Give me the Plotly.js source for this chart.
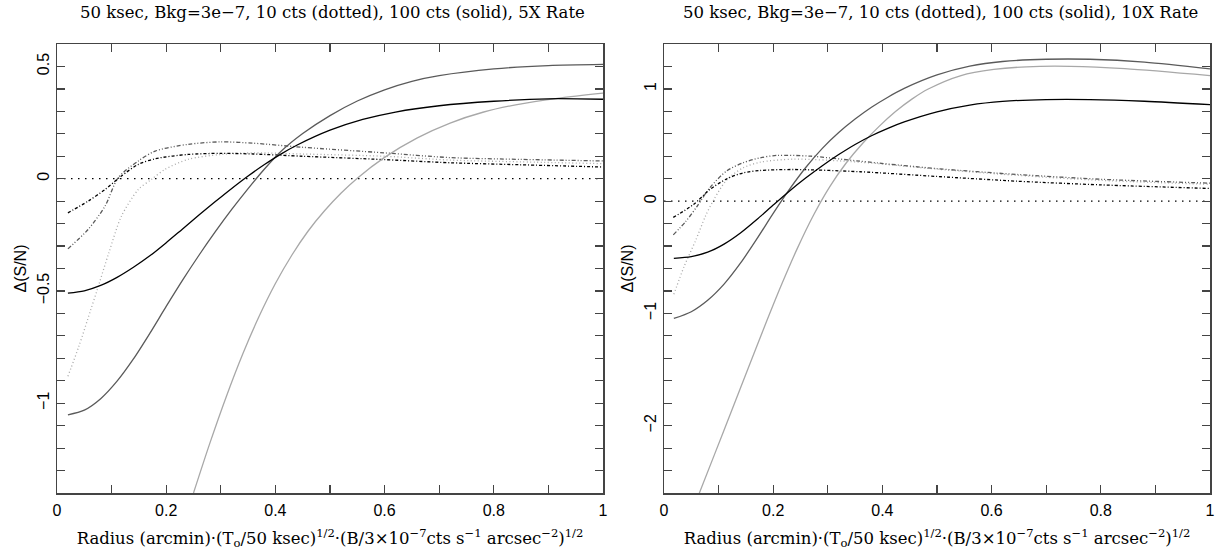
<!DOCTYPE html>
<html>
<head>
<meta charset="utf-8">
<script src="https://cdn.plot.ly/plotly-3.0.1.min.js"></script>
<style>html,body{margin:0;padding:0;background:#fff;}#chart{width:1224px;height:556px;}</style>
</head>
<body>
<div id="chart"></div>
<script>
// ---------- data: left panel (5X Rate) ----------
const L_solidBlack_x = [0.02,0.05,0.08,0.11,0.14,0.17,0.20,0.23,0.26,0.29,0.32,0.35,0.38,0.41,0.44,0.50,0.56,0.62,0.70,0.80,0.90,1.00];
const L_solidBlack_y = [-0.51,-0.4995,-0.4755,-0.4395,-0.3945,-0.3435,-0.285,-0.2235,-0.162,-0.102,-0.0435,0.012,0.063,0.1095,0.15,0.216,0.264,0.297,0.325,0.345,0.356,0.354];
const L_solidDark_x = [0.02,0.05,0.08,0.11,0.14,0.17,0.20,0.23,0.26,0.29,0.32,0.35,0.38,0.41,0.45,0.50,0.55,0.60,0.65,0.70,0.80,0.90,1.00];
const L_solidDark_y = [-1.052,-1.031,-0.98,-0.902,-0.803,-0.689,-0.569,-0.452,-0.341,-0.236,-0.137,-0.044,0.043,0.121,0.201,0.281,0.346,0.396,0.434,0.459,0.489,0.504,0.509];
const L_solidLight_x = [0.25,0.28,0.31,0.34,0.37,0.40,0.43,0.46,0.49,0.52,0.55,0.60,0.66,0.72,0.78,0.84,0.92,1.00];
const L_solidLight_y = [-1.40,-1.178,-0.971,-0.782,-0.614,-0.467,-0.341,-0.233,-0.143,-0.065,0.0025,0.095,0.182,0.248,0.296,0.329,0.359,0.381];
const L_dotBlack_x = [0.02,0.057,0.088,0.118,0.149,0.18,0.24,0.30,0.36,0.45,0.60,0.72,0.85,1.00];
const L_dotBlack_y = [-0.152,-0.10,-0.048,0.012,0.064,0.089,0.108,0.113,0.11,0.10,0.085,0.071,0.062,0.052];
const L_dotDark_x = [0.02,0.057,0.088,0.112,0.149,0.18,0.24,0.30,0.36,0.45,0.60,0.72,0.85,1.00];
const L_dotDark_y = [-0.3125,-0.226,-0.122,0.004,0.079,0.123,0.153,0.164,0.158,0.14,0.115,0.094,0.086,0.079];
const L_dotLight_x = [0.02,0.04,0.061,0.073,0.095,0.118,0.149,0.173,0.198,0.24,0.30,0.36,0.45,0.60,0.72,0.85,1.00];
const L_dotLight_y = [-0.88,-0.747,-0.59,-0.50,-0.33,-0.167,-0.048,-0.003,0.042,0.086,0.108,0.115,0.11,0.10,0.083,0.075,0.067];

// ---------- data: right panel (10X Rate) ----------
const R_solidBlack_x = [0.018,0.05,0.08,0.11,0.14,0.17,0.20,0.23,0.26,0.29,0.32,0.35,0.38,0.41,0.44,0.50,0.56,0.62,0.70,0.78,0.88,1.00];
const R_solidBlack_y = [-0.51,-0.494,-0.455,-0.383,-0.284,-0.164,-0.035,0.091,0.208,0.316,0.415,0.505,0.583,0.649,0.706,0.796,0.856,0.889,0.905,0.905,0.89,0.86];
const R_solidDark_x = [0.018,0.05,0.08,0.11,0.14,0.17,0.20,0.23,0.26,0.29,0.32,0.35,0.38,0.41,0.44,0.50,0.56,0.62,0.70,0.78,0.88,1.00];
const R_solidDark_y = [-1.045,-0.985,-0.883,-0.739,-0.553,-0.337,-0.109,0.107,0.302,0.47,0.611,0.731,0.836,0.926,1.004,1.124,1.202,1.244,1.264,1.264,1.239,1.179];
const R_solidLight_x = [0.064,0.094,0.124,0.154,0.184,0.214,0.244,0.274,0.304,0.334,0.364,0.394,0.424,0.454,0.484,0.544,0.604,0.664,0.744,0.844,1.00];
const R_solidLight_y = [-2.61,-2.238,-1.866,-1.491,-1.119,-0.759,-0.423,-0.123,0.132,0.342,0.516,0.666,0.798,0.909,0.999,1.119,1.173,1.197,1.201,1.181,1.119];
const R_dotBlack_x = [0.017,0.054,0.084,0.115,0.145,0.176,0.237,0.359,0.50,0.646,0.80,1.00];
const R_dotBlack_y = [-0.145,-0.03,0.104,0.199,0.252,0.273,0.282,0.262,0.22,0.178,0.145,0.113];
const R_dotDark_x = [0.017,0.04,0.06,0.084,0.115,0.145,0.176,0.206,0.268,0.359,0.50,0.646,0.80,1.00];
const R_dotDark_y = [-0.30,-0.18,-0.05,0.12,0.27,0.342,0.386,0.407,0.401,0.356,0.29,0.238,0.195,0.16];
const R_dotLight_x = [0.018,0.037,0.058,0.076,0.092,0.115,0.145,0.176,0.237,0.359,0.50,0.646,0.80,1.00];
const R_dotLight_y = [-0.83,-0.58,-0.35,-0.133,0.02,0.19,0.297,0.347,0.374,0.347,0.285,0.23,0.185,0.15];

const zero_x = [0, 1];
const zero_y = [0, 0];

const titleLeft = "50 ksec, Bkg=3e\u22127, 10 cts (dotted), 100 cts (solid), 5X Rate";
const titleRight = "50 ksec, Bkg=3e\u22127, 10 cts (dotted), 100 cts (solid), 10X Rate";
const xTitle = "Radius (arcmin)\u00B7(T<sub>o</sub>/50 ksec)<sup>1/2</sup>\u00B7(B/3\u00D710<sup>\u22127</sup>cts s<sup>\u22121</sup> arcsec<sup>\u22122</sup>)<sup>1/2</sup>";
const yTitle = "\u0394(S/N)";

// ---------- styles ----------
const BLACK = "#000000", DARK = "#5a5a5a", LIGHT = "#a8a8a8";
const W = 1.3;
function line(x, y, color, dash, xa, ya) {
  return {x: x, y: y, mode: "lines", type: "scatter", xaxis: xa, yaxis: ya,
    line: {color: color, width: W, dash: dash, shape: "spline", smoothing: 0.8},
    hoverinfo: "skip", showlegend: false};
}
const DB = "3px,2px,1px,2px", DD = "4px,2px,1px,2px,1px,2px", DL = "1px,2.5px", DZ = "1.5px,5.5px";

const traces = [
  line(zero_x, zero_y, BLACK, DZ, "x", "y"),
  line(L_dotLight_x, L_dotLight_y, LIGHT, DL, "x", "y"),
  line(L_dotDark_x, L_dotDark_y, DARK, DD, "x", "y"),
  line(L_dotBlack_x, L_dotBlack_y, BLACK, DB, "x", "y"),
  line(L_solidLight_x, L_solidLight_y, LIGHT, "solid", "x", "y"),
  line(L_solidDark_x, L_solidDark_y, DARK, "solid", "x", "y"),
  line(L_solidBlack_x, L_solidBlack_y, BLACK, "solid", "x", "y"),
  line(zero_x, zero_y, BLACK, DZ, "x2", "y2"),
  line(R_dotLight_x, R_dotLight_y, LIGHT, DL, "x2", "y2"),
  line(R_dotDark_x, R_dotDark_y, DARK, DD, "x2", "y2"),
  line(R_dotBlack_x, R_dotBlack_y, BLACK, DB, "x2", "y2"),
  line(R_solidLight_x, R_solidLight_y, LIGHT, "solid", "x2", "y2"),
  line(R_solidDark_x, R_solidDark_y, DARK, "solid", "x2", "y2"),
  line(R_solidBlack_x, R_solidBlack_y, BLACK, "solid", "x2", "y2")
];

const tickFont = {family: "Liberation Sans, Arial, sans-serif", size: 16, color: "#000"};
const serif = "DejaVu Serif, serif";
const FRAME = "#444";

function xaxis(domain, anchor) {
  return {domain: domain, anchor: anchor, range: [0, 1], dtick: 0.2, tick0: 0,
    ticks: "inside", ticklen: 8, tickwidth: 1.2, tickcolor: FRAME,
    minor: {dtick: 0.1, ticks: "inside", ticklen: 8, tickwidth: 1.2, tickcolor: FRAME, showgrid: false},
    showline: true, linecolor: FRAME, linewidth: 1.5, mirror: "ticks",
    showgrid: false, zeroline: false, tickfont: tickFont, ticklabelstandoff: 2,
    title: {text: xTitle, font: {family: serif, size: 16.5, color: "#000"}, standoff: 14}};
}
function yaxis(domain, anchor, range, dtick, minor) {
  return {domain: domain, anchor: anchor, range: range, dtick: dtick, tick0: 0,
    ticks: "inside", ticklen: 8, tickwidth: 1.2, tickcolor: FRAME,
    minor: {dtick: minor, ticks: "inside", ticklen: 8, tickwidth: 1.2, tickcolor: FRAME, showgrid: false},
    showline: true, linecolor: FRAME, linewidth: 1.5, mirror: "ticks",
    showgrid: false, zeroline: false, tickfont: tickFont, tickangle: -90,
    title: {text: yTitle, font: {family: "Liberation Sans, Arial, sans-serif", size: 16, color: "#000"}, standoff: 4}};
}

const yDom = [1 - 493/556, 1 - 44/556];
const layout = {
  width: 1224, height: 556,
  margin: {l: 0, r: 0, t: 0, b: 0},
  paper_bgcolor: "#fff", plot_bgcolor: "#fff",
  showlegend: false,
  xaxis: xaxis([57/1224, 603/1224], "y"),
  yaxis: yaxis(yDom, "x", [-1.4, 0.6], 0.5, 0.1),
  xaxis2: xaxis([664/1224, 1210/1224], "y2"),
  yaxis2: yaxis(yDom, "x2", [-2.6, 1.4], 1, 0.2),
  annotations: [
    {text: titleLeft, xref: "paper", yref: "paper", x: 332/1224, y: 1 - 13/556, xanchor: "center", yanchor: "middle",
     showarrow: false, font: {family: serif, size: 16.5, color: "#000"}},
    {text: titleRight, xref: "paper", yref: "paper", x: 940/1224, y: 1 - 13/556, xanchor: "center", yanchor: "middle",
     showarrow: false, font: {family: serif, size: 16.5, color: "#000"}}
  ]
};

Plotly.newPlot("chart", traces, layout, {staticPlot: true, displayModeBar: false});
</script>
</body>
</html>
